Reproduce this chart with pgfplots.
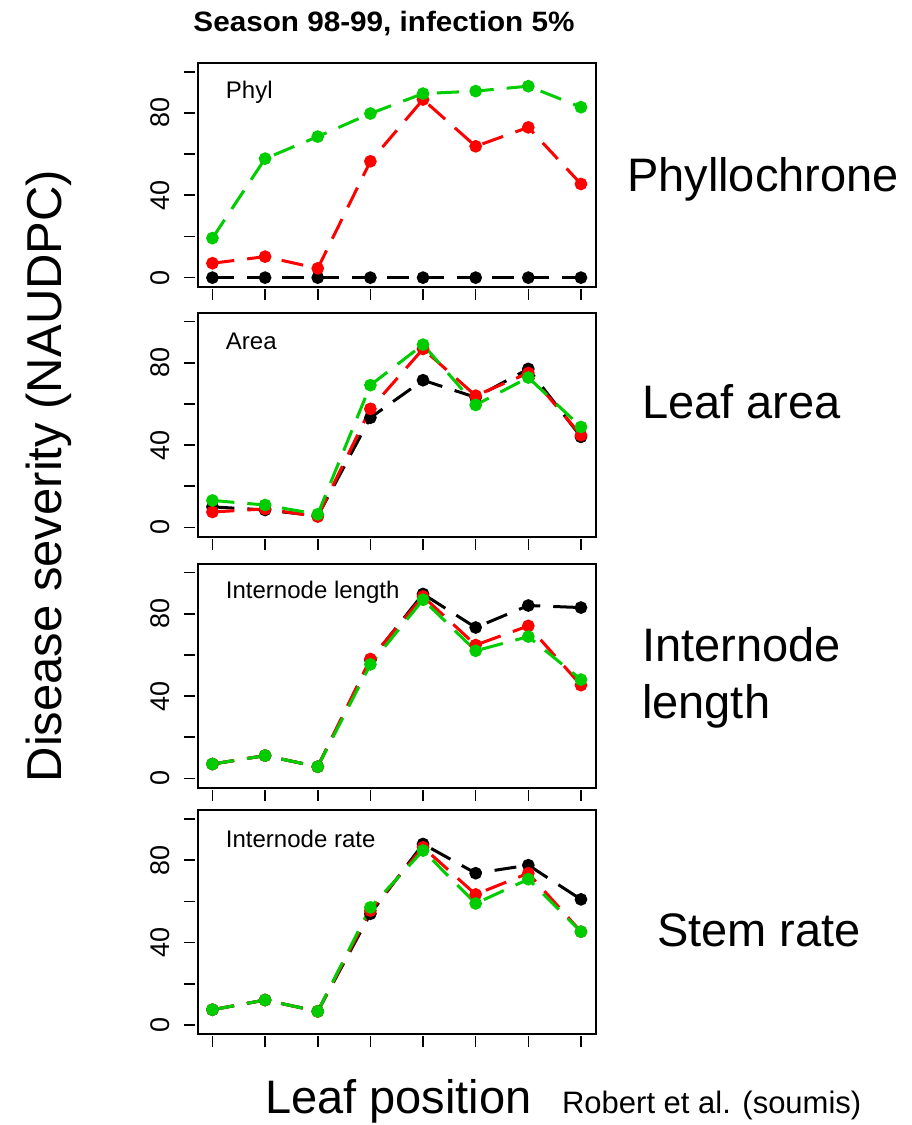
\documentclass[border=0pt]{standalone}
\usepackage{pgfplots}
\pgfplotsset{compat=1.18}
\usepackage{graphicx}
\usepackage{fontspec}
\setmainfont{Liberation Sans}
\definecolor{rgreen}{RGB}{0,205,0}
\definecolor{rred}{RGB}{255,0,0}
\tikzset{pl/.style={font=\fontsize{12}{12}\selectfont, anchor=west, inner sep=0pt}}
\pgfplotsset{
  panel/.style={
    anchor=north west,
    width=199pt, height=112pt, scale only axis,
    xmin=0.72, xmax=8.28, ymin=-4.4, ymax=104.4,
    xtick={1,...,8}, xticklabels={},
    ytick={0,20,40,60,80,100}, yticklabels={0,,40,,80,},
    tick pos=left,
    tick align=outside, major tick length=5.5pt,
    axis line style={line width=1pt},
    every tick/.style={black, line width=0.8pt},
    x tick style={yshift=-1.2pt}, y tick style={xshift=-1.2pt},
    yticklabel style={rotate=90, anchor=south, font=\fontsize{13.5}{13.5}\selectfont, inner sep=0pt},
    yticklabel shift=8.3pt,
    /pgf/number format/assume math mode=true,
    every axis plot/.append style={line width=1.5pt, dash pattern=on 11pt off 6.5pt, mark=*, mark size=2.4pt, mark options={solid}},
  },
}
\begin{document}
\begin{tikzpicture}
\path[use as bounding box] (0,0) rectangle (455.5pt,-562.5pt);
% Panel 1
\begin{axis}[panel, at={(98.85pt,-31.35pt)}]
\addplot[black] coordinates {(1,0)(2,0)(3,0)(4,0)(5,0)(6,0)(7,0)(8,0)};
\addplot[rred] coordinates {(1,7.0)(2,10.2)(3,4.5)(4,56.5)(5,86.5)(6,63.8)(7,73)(8,45.5)};
\addplot[rgreen] coordinates {(1,19.2)(2,57.8)(3,68.5)(4,79.7)(5,89.4)(6,90.6)(7,93)(8,82.8)};
\node[pl] at (rel axis cs:0.07,0.87) {Phyl};
\end{axis}
% Panel 2
\begin{axis}[panel, at={(98.85pt,-156.25pt)}]
\addplot[black] coordinates {(1,10)(2,8.5)(3,5.6)(4,53.3)(5,71.5)(6,63.2)(7,77)(8,44)};
\addplot[rred] coordinates {(1,7.5)(2,9)(3,5.3)(4,57.6)(5,86.7)(6,64)(7,75)(8,44.8)};
\addplot[rgreen] coordinates {(1,13.1)(2,10.9)(3,6.4)(4,69.1)(5,88.8)(6,59.5)(7,72.8)(8,48.8)};
\node[pl] at (rel axis cs:0.07,0.87) {Area};
\end{axis}
% Panel 3
\begin{axis}[panel, at={(98.85pt,-281.75pt)}]
\addplot[black] coordinates {(1,7)(2,11.1)(3,5.7)(4,57.5)(5,89.6)(6,73.3)(7,84)(8,83)};
\addplot[rred] coordinates {(1,7)(2,11.1)(3,5.7)(4,58)(5,88.4)(6,64.8)(7,74.1)(8,45.3)};
\addplot[rgreen] coordinates {(1,7)(2,11.1)(3,5.7)(4,55.4)(5,86.8)(6,62)(7,68.9)(8,48)};
\node[pl] at (rel axis cs:0.07,0.87) {Internode length};
\end{axis}
% Panel 4
\begin{axis}[panel, at={(98.85pt,-405pt)}]
\addplot[black] coordinates {(1,7.4)(2,12.1)(3,6.6)(4,54)(5,87.9)(6,73.7)(7,77.6)(8,61)};
\addplot[rred] coordinates {(1,7.4)(2,12.1)(3,6.6)(4,55.5)(5,86.3)(6,63.4)(7,73.7)(8,45.3)};
\addplot[rgreen] coordinates {(1,7.4)(2,12.1)(3,6.6)(4,57.1)(5,84.7)(6,59)(7,70.8)(8,45.3)};
\node[pl] at (rel axis cs:0.07,0.87) {Internode rate};
\end{axis}
% Texts
\node[anchor=base, inner sep=0pt, font=\bfseries\fontsize{14}{14}\selectfont] at (192pt,-15.85pt) {\scalebox{1.06}[1]{Season 98-99, infection 5\%}};
\begin{scope}[every node/.style={anchor=base west, inner sep=0pt, font=\fontsize{23.5}{28}\selectfont}]
\node at (313.35pt,-95.85pt) {Phyllochrone};
\node at (320.85pt,-209.15pt) {Leaf area};
\node at (320.85pt,-330.85pt) {Internode};
\node at (320.85pt,-359.15pt) {length};
\node at (328.35pt,-473.35pt) {Stem rate};
\node at (132.3pt,-556.5pt) {Leaf position};
\end{scope}
\node[anchor=base west, inner sep=0pt, font=\fontsize{15.5}{17}\selectfont] at (280.85pt,-556.5pt) {Robert et al. (soumis)};
\node[anchor=base, inner sep=0pt, rotate=90, font=\fontsize{24.5}{28}\selectfont] at (30.85pt,-238pt) {Disease severity (NAUDPC)};
\end{tikzpicture}
\end{document}
